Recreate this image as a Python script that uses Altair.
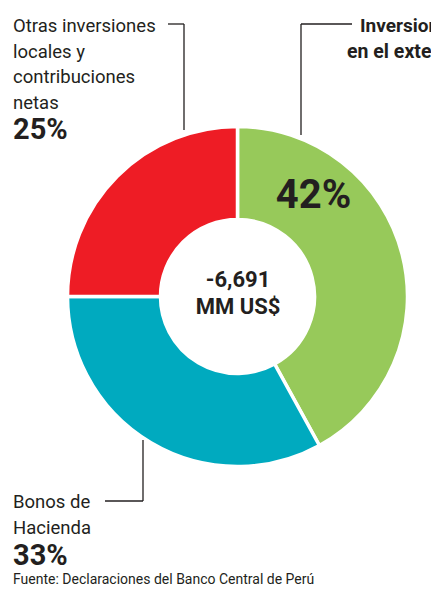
import altair as alt
import pandas as pd

# ---- data ----
categories = ["Inversiones en el exterior", "Bonos de Hacienda",
              "Otras inversiones locales y contribuciones netas"]
shares = [42, 33, 25]
share_labels = ["42%", "33%", "25%"]
colors = ["#97c95a", "#00aabf", "#ee1c25"]
center_lines = ["-6,691", "MM US$"]
left_top_lines = ["Otras inversiones", "locales y", "contribuciones", "netas"]
right_top_lines = ["Inversiones", "en el exterior"]
bottom_lines = ["Bonos de", "Hacienda"]
source_text = "Fuente: Declaraciones del Banco Central de Perú"

FONT = "Roboto"
INK = "#231f20"

df = pd.DataFrame({"cat": categories, "share": shares, "order": [0, 1, 2]})

# layout (chart pixel coordinates; page = chart + 8)
CX, CY = 229.5, 288.5

arc = alt.Chart(df).mark_arc(outerRadius=170, innerRadius=77,
                             stroke="white", strokeWidth=3.5).encode(
    theta=alt.Theta("share:Q", stack=True),
    order=alt.Order("order:Q"),
    color=alt.Color("cat:N", scale=alt.Scale(domain=categories, range=colors), legend=None),
    x=alt.value(CX), y=alt.value(CY),
)

rows = []
for i, t in enumerate(left_top_lines):
    rows.append(dict(text=t, x=5, y=24 + 25.5 * i, size=18.5, weight="normal", align="left"))
rows.append(dict(text=share_labels[2], x=5, y=131, size=29, weight="bold", align="left"))
rows.append(dict(text=right_top_lines[0], x=352, y=24, size=19, weight="bold", align="left"))
rows.append(dict(text=right_top_lines[1], x=339, y=50, size=19.5, weight="bold", align="left"))
rows.append(dict(text=share_labels[0], x=305.5, y=199.5, size=40, weight="bold", align="center"))
for i, t in enumerate(bottom_lines):
    rows.append(dict(text=t, x=5, y=500 + 26 * i, size=18.5, weight="normal", align="left"))
rows.append(dict(text=share_labels[1], x=5, y=557, size=29, weight="bold", align="left"))
rows.append(dict(text=center_lines[0], x=CX + 0.5, y=279, size=22, weight="bold", align="center"))
rows.append(dict(text=center_lines[1], x=CX + 0.5, y=306, size=22, weight="bold", align="center"))
rows.append(dict(text=source_text, x=5, y=576, size=14, weight="normal", align="left"))
tdf = pd.DataFrame(rows)

layers = [arc]
for (w, a), g in tdf.groupby(["weight", "align"]):
    for s, gg in g.groupby("size"):
        layers.append(
            alt.Chart(gg).mark_text(font=FONT, fontWeight=w, align=a, baseline="alphabetic",
                                    fontSize=float(s), color=INK).encode(
                x=alt.X("x:Q", scale=None), y=alt.Y("y:Q", scale=None), text="text:N")
        )

segs = pd.DataFrame([
    dict(x=160, y=16, x2=176, y2=16),
    dict(x=176, y=16, x2=176, y2=122),
    dict(x=293, y=16, x2=344, y2=16),
    dict(x=293, y=16, x2=293, y2=127),
    dict(x=97, y=493, x2=135, y2=493),
    dict(x=135, y=432, x2=135, y2=493),
])
rules = alt.Chart(segs).mark_rule(color=INK, strokeWidth=1.3).encode(
    x=alt.X("x:Q", scale=None), y=alt.Y("y:Q", scale=None),
    x2="x2:Q", y2="y2:Q")
layers.append(rules)

chart = alt.layer(*layers).properties(
    width=423, height=578, padding=0,
    autosize=alt.AutoSizeParams(type="none"),
).configure_view(stroke=None)

chart.save("out.html", embed_options={"renderer": "svg", "actions": False})
